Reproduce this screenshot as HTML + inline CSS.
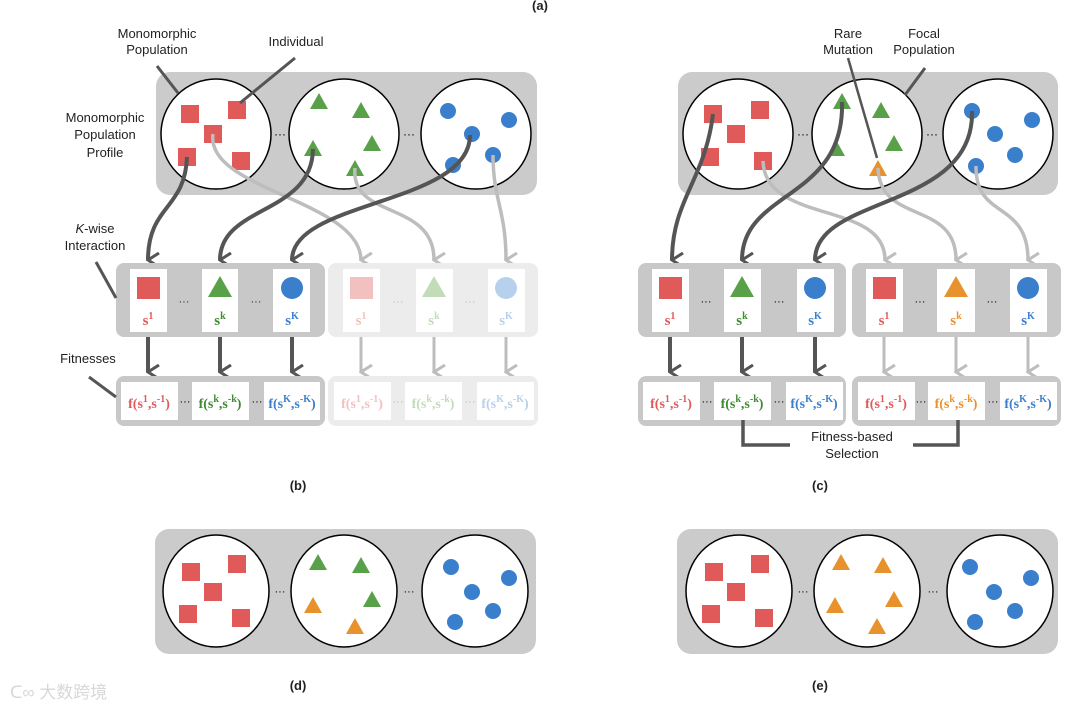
<!DOCTYPE html>
<html><head><meta charset="utf-8"><style>
html,body{margin:0;padding:0;background:#fff}
svg{display:block}
text{font-family:"Liberation Sans",sans-serif}
.lbl{font-size:13px;fill:#222;text-anchor:middle}
.s{font-family:"Liberation Serif",serif;font-weight:bold;font-size:15px;text-anchor:middle}
.f{font-family:"Liberation Serif",serif;font-weight:bold;font-size:14px;text-anchor:middle}
</style></head><body>
<svg width="1080" height="711" viewBox="0 0 1080 711" xmlns="http://www.w3.org/2000/svg">
<defs>
<marker id="ad" markerWidth="16" markerHeight="14" refX="8" refY="12" orient="auto" markerUnits="userSpaceOnUse" viewBox="0 0 16 14"><path d="M1,1 L8,12 L15,1" fill="none" stroke="#555" stroke-width="3"/></marker>
<marker id="al" markerWidth="16" markerHeight="14" refX="8" refY="12" orient="auto" markerUnits="userSpaceOnUse" viewBox="0 0 16 14"><path d="M1,1 L8,12 L15,1" fill="none" stroke="#bdbdbd" stroke-width="3"/></marker>
</defs>
<text x="540" y="10" class="lbl" font-weight="bold" font-size="13">(a)</text>

<!-- ===== LEFT TOP ===== -->
<rect x="156" y="72" width="381" height="123" rx="14" fill="#cbcbcb"/>
<circle cx="216" cy="134" r="55" fill="#fff" stroke="#000" stroke-width="1.5"/>
<circle cx="344" cy="134" r="55" fill="#fff" stroke="#000" stroke-width="1.5"/>
<circle cx="476" cy="134" r="55" fill="#fff" stroke="#000" stroke-width="1.5"/>
<text x="280" y="138" font-size="12" text-anchor="middle">···</text>
<text x="409" y="138" font-size="12" text-anchor="middle">···</text>
<g fill="#e05a5a">
<rect x="181" y="105" width="18" height="18"/><rect x="228" y="101" width="18" height="18"/><rect x="204" y="125" width="18" height="18"/><rect x="178" y="148" width="18" height="18"/><rect x="232" y="152" width="18" height="18"/>
</g>
<g fill="#58a148">
<path d="M319,93 l9,16 h-18z"/><path d="M361,102 l9,16 h-18z"/><path d="M372,135 l9,16 h-18z"/><path d="M313,140 l9,16 h-18z"/><path d="M355,160 l9,16 h-18z"/>
</g>
<g fill="#3a7fcc">
<circle cx="448" cy="111" r="8"/><circle cx="509" cy="120" r="8"/><circle cx="472" cy="134" r="8"/><circle cx="493" cy="155" r="8"/><circle cx="453" cy="165" r="8"/>
</g>
<g fill="none" stroke-width="4">
<path d="M213,134 C205,190 360,200 361,260" stroke="#bdbdbd" stroke-width="3.5" marker-end="url(#al)"/>
<path d="M355,168 C350,220 434,200 434,260" stroke="#bdbdbd" stroke-width="3.5" marker-end="url(#al)"/>
<path d="M493,155 C493,200 506,210 506,260" stroke="#bdbdbd" stroke-width="3.5" marker-end="url(#al)"/>
<path d="M187,157 C185,210 148,205 148,260" stroke="#555" marker-end="url(#ad)"/>
<path d="M313,149 C312,215 220,205 220,260" stroke="#555" marker-end="url(#ad)"/>
<path d="M470,135 C470,205 292,200 292,260" stroke="#555" marker-end="url(#ad)"/>
</g>
<rect x="116" y="263" width="209" height="74" rx="8" fill="#c8c8c8"/>
<rect x="328" y="263" width="210" height="74" rx="8" fill="#ececec"/>
<g fill="#fff"><rect x="130" y="269" width="37" height="63"/><rect x="202" y="269" width="36" height="63"/><rect x="273" y="269" width="37" height="63"/>
<rect x="343" y="269" width="37" height="63"/><rect x="416" y="269" width="37" height="63"/><rect x="488" y="269" width="37" height="63"/></g>
<rect x="137" y="277" width="23" height="22" fill="#e05a5a"/>
<path d="M220,276 l12,21 h-24z" fill="#58a148"/>
<circle cx="292" cy="288" r="11" fill="#3a7fcc"/>
<rect x="350" y="277" width="23" height="22" fill="#f3c0c0"/>
<path d="M434,276 l12,21 h-24z" fill="#c2dcb9"/>
<circle cx="506" cy="288" r="11" fill="#b7d0ec"/>
<text x="148" y="325" class="s" fill="#e05a5a">s<tspan dy="-6" font-size="10">1</tspan></text>
<text x="220" y="325" class="s" fill="#3d8a30">s<tspan dy="-6" font-size="10">k</tspan></text>
<text x="292" y="325" class="s" fill="#3a7fcc">s<tspan dy="-6" font-size="10">K</tspan></text>
<text x="361" y="325" class="s" fill="#f3c0c0">s<tspan dy="-6" font-size="10">1</tspan></text>
<text x="434" y="325" class="s" fill="#c2dcb9">s<tspan dy="-6" font-size="10">k</tspan></text>
<text x="506" y="325" class="s" fill="#b7d0ec">s<tspan dy="-6" font-size="10">K</tspan></text>
<text x="184" y="305" font-size="11" text-anchor="middle" fill="#333">···</text>
<text x="256" y="305" font-size="11" text-anchor="middle" fill="#333">···</text>
<text x="398" y="305" font-size="11" text-anchor="middle" fill="#bbb">···</text>
<text x="470" y="305" font-size="11" text-anchor="middle" fill="#bbb">···</text>
<g fill="none" stroke-width="4">
<path d="M148,337 V372" stroke="#555" marker-end="url(#ad)"/><path d="M220,337 V372" stroke="#555" marker-end="url(#ad)"/><path d="M292,337 V372" stroke="#555" marker-end="url(#ad)"/>
<path d="M361,337 V372" stroke="#bdbdbd" stroke-width="3" marker-end="url(#al)"/><path d="M434,337 V372" stroke="#bdbdbd" stroke-width="3" marker-end="url(#al)"/><path d="M506,337 V372" stroke="#bdbdbd" stroke-width="3" marker-end="url(#al)"/>
</g>
<rect x="116" y="376" width="209" height="50" rx="8" fill="#c8c8c8"/>
<rect x="328" y="376" width="210" height="50" rx="8" fill="#ececec"/>
<g fill="#fff"><rect x="121" y="382" width="57" height="38"/><rect x="192" y="382" width="57" height="38"/><rect x="264" y="382" width="56" height="38"/>
<rect x="334" y="382" width="57" height="38"/><rect x="405" y="382" width="57" height="38"/><rect x="477" y="382" width="57" height="38"/></g>
<text x="149" y="408" class="f" fill="#e05a5a">f(s<tspan dy="-6" font-size="10">1</tspan><tspan dy="6">,s</tspan><tspan dy="-6" font-size="10">-1</tspan><tspan dy="6">)</tspan></text>
<text x="220" y="408" class="f" fill="#3d8a30">f(s<tspan dy="-6" font-size="10">k</tspan><tspan dy="6">,s</tspan><tspan dy="-6" font-size="10">-k</tspan><tspan dy="6">)</tspan></text>
<text x="292" y="408" class="f" fill="#3a7fcc">f(s<tspan dy="-6" font-size="10">K</tspan><tspan dy="6">,s</tspan><tspan dy="-6" font-size="10">-K</tspan><tspan dy="6">)</tspan></text>
<text x="362" y="408" class="f" fill="#f3c0c0">f(s<tspan dy="-6" font-size="10">1</tspan><tspan dy="6">,s</tspan><tspan dy="-6" font-size="10">-1</tspan><tspan dy="6">)</tspan></text>
<text x="433" y="408" class="f" fill="#c2dcb9">f(s<tspan dy="-6" font-size="10">k</tspan><tspan dy="6">,s</tspan><tspan dy="-6" font-size="10">-k</tspan><tspan dy="6">)</tspan></text>
<text x="505" y="408" class="f" fill="#b7d0ec">f(s<tspan dy="-6" font-size="10">K</tspan><tspan dy="6">,s</tspan><tspan dy="-6" font-size="10">-K</tspan><tspan dy="6">)</tspan></text>
<text x="185" y="405" font-size="11" text-anchor="middle">···</text>
<text x="257" y="405" font-size="11" text-anchor="middle">···</text>
<text x="398" y="405" font-size="11" text-anchor="middle" fill="#bbb">···</text>
<text x="470" y="405" font-size="11" text-anchor="middle" fill="#bbb">···</text>
<text class="lbl" x="157" y="38">Monomorphic</text><text class="lbl" x="157" y="54">Population</text>
<line x1="157" y1="66" x2="178" y2="93" stroke="#555" stroke-width="3"/>
<text class="lbl" x="296" y="46">Individual</text>
<line x1="295" y1="58" x2="240" y2="103" stroke="#555" stroke-width="3"/>
<text class="lbl" x="105" y="122">Monomorphic</text><text class="lbl" x="105" y="139">Population</text><text class="lbl" x="105" y="157">Profile</text>
<text class="lbl" x="95" y="233"><tspan font-style="italic">K</tspan>-wise</text><text class="lbl" x="95" y="250">Interaction</text>
<line x1="96" y1="262" x2="116" y2="298" stroke="#555" stroke-width="3"/>
<text class="lbl" x="88" y="363">Fitnesses</text>
<line x1="89" y1="377" x2="116" y2="397" stroke="#555" stroke-width="3"/>
<text class="lbl" x="298" y="490" font-weight="bold">(b)</text>

<!-- ===== RIGHT TOP ===== -->
<rect x="678" y="72" width="380" height="123" rx="14" fill="#cbcbcb"/>
<circle cx="738" cy="134" r="55" fill="#fff" stroke="#000" stroke-width="1.5"/>
<circle cx="867" cy="134" r="55" fill="#fff" stroke="#000" stroke-width="1.5"/>
<circle cx="998" cy="134" r="55" fill="#fff" stroke="#000" stroke-width="1.5"/>
<text x="803" y="138" font-size="12" text-anchor="middle">···</text>
<text x="932" y="138" font-size="12" text-anchor="middle">···</text>
<g fill="#e05a5a">
<rect x="704" y="105" width="18" height="18"/><rect x="751" y="101" width="18" height="18"/><rect x="727" y="125" width="18" height="18"/><rect x="701" y="148" width="18" height="18"/><rect x="754" y="152" width="18" height="18"/>
</g>
<g fill="#58a148">
<path d="M842,93 l9,16 h-18z"/><path d="M881,102 l9,16 h-18z"/><path d="M894,135 l9,16 h-18z"/><path d="M836,140 l9,16 h-18z"/>
</g>
<path d="M878,160 l9,16 h-18z" fill="#e8922e"/>
<g fill="#3a7fcc">
<circle cx="972" cy="111" r="8"/><circle cx="1032" cy="120" r="8"/><circle cx="995" cy="134" r="8"/><circle cx="1015" cy="155" r="8"/><circle cx="976" cy="166" r="8"/>
</g>
<g fill="none" stroke-width="4">
<path d="M763,161 C765,225 885,200 885,260" stroke="#bdbdbd" stroke-width="3.5" marker-end="url(#al)"/>
<path d="M878,168 C880,225 956,200 956,260" stroke="#bdbdbd" stroke-width="3.5" marker-end="url(#al)"/>
<path d="M976,166 C975,220 1028,200 1028,260" stroke="#bdbdbd" stroke-width="3.5" marker-end="url(#al)"/>
<path d="M713,114 C705,180 672,200 672,260" stroke="#555" marker-end="url(#ad)"/>
<path d="M842,102 C845,200 742,190 742,260" stroke="#555" marker-end="url(#ad)"/>
<path d="M972,111 C975,210 815,195 815,260" stroke="#555" marker-end="url(#ad)"/>
</g>
<rect x="638" y="263" width="208" height="74" rx="8" fill="#c8c8c8"/>
<rect x="852" y="263" width="209" height="74" rx="8" fill="#c8c8c8"/>
<g fill="#fff"><rect x="652" y="269" width="37" height="63"/><rect x="724" y="269" width="37" height="63"/><rect x="797" y="269" width="37" height="63"/>
<rect x="866" y="269" width="37" height="63"/><rect x="937" y="269" width="38" height="63"/><rect x="1010" y="269" width="37" height="63"/></g>
<rect x="659" y="277" width="23" height="22" fill="#e05a5a"/>
<path d="M742,276 l12,21 h-24z" fill="#58a148"/>
<circle cx="815" cy="288" r="11" fill="#3a7fcc"/>
<rect x="873" y="277" width="23" height="22" fill="#e05a5a"/>
<path d="M956,276 l12,21 h-24z" fill="#e8922e"/>
<circle cx="1028" cy="288" r="11" fill="#3a7fcc"/>
<text x="670" y="325" class="s" fill="#e05a5a">s<tspan dy="-6" font-size="10">1</tspan></text>
<text x="742" y="325" class="s" fill="#3d8a30">s<tspan dy="-6" font-size="10">k</tspan></text>
<text x="815" y="325" class="s" fill="#3a7fcc">s<tspan dy="-6" font-size="10">K</tspan></text>
<text x="884" y="325" class="s" fill="#e05a5a">s<tspan dy="-6" font-size="10">1</tspan></text>
<text x="956" y="325" class="s" fill="#e8922e">s<tspan dy="-6" font-size="10">k</tspan></text>
<text x="1028" y="325" class="s" fill="#3a7fcc">s<tspan dy="-6" font-size="10">K</tspan></text>
<text x="706" y="305" font-size="11" text-anchor="middle">···</text>
<text x="779" y="305" font-size="11" text-anchor="middle">···</text>
<text x="920" y="305" font-size="11" text-anchor="middle">···</text>
<text x="992" y="305" font-size="11" text-anchor="middle">···</text>
<g fill="none" stroke-width="4">
<path d="M670,337 V372" stroke="#555" marker-end="url(#ad)"/><path d="M742,337 V372" stroke="#555" marker-end="url(#ad)"/><path d="M815,337 V372" stroke="#555" marker-end="url(#ad)"/>
<path d="M884,337 V372" stroke="#bdbdbd" stroke-width="3" marker-end="url(#al)"/><path d="M956,337 V372" stroke="#bdbdbd" stroke-width="3" marker-end="url(#al)"/><path d="M1028,337 V372" stroke="#bdbdbd" stroke-width="3" marker-end="url(#al)"/>
</g>
<rect x="638" y="376" width="208" height="50" rx="8" fill="#c8c8c8"/>
<rect x="852" y="376" width="209" height="50" rx="8" fill="#c8c8c8"/>
<g fill="#fff"><rect x="643" y="382" width="57" height="38"/><rect x="714" y="382" width="57" height="38"/><rect x="786" y="382" width="57" height="38"/>
<rect x="858" y="382" width="57" height="38"/><rect x="928" y="382" width="57" height="38"/><rect x="1000" y="382" width="57" height="38"/></g>
<text x="671" y="408" class="f" fill="#e05a5a">f(s<tspan dy="-6" font-size="10">1</tspan><tspan dy="6">,s</tspan><tspan dy="-6" font-size="10">-1</tspan><tspan dy="6">)</tspan></text>
<text x="742" y="408" class="f" fill="#3d8a30">f(s<tspan dy="-6" font-size="10">k</tspan><tspan dy="6">,s</tspan><tspan dy="-6" font-size="10">-k</tspan><tspan dy="6">)</tspan></text>
<text x="814" y="408" class="f" fill="#3a7fcc">f(s<tspan dy="-6" font-size="10">K</tspan><tspan dy="6">,s</tspan><tspan dy="-6" font-size="10">-K</tspan><tspan dy="6">)</tspan></text>
<text x="886" y="408" class="f" fill="#e05a5a">f(s<tspan dy="-6" font-size="10">1</tspan><tspan dy="6">,s</tspan><tspan dy="-6" font-size="10">-1</tspan><tspan dy="6">)</tspan></text>
<text x="956" y="408" class="f" fill="#e8922e">f(s<tspan dy="-6" font-size="10">k</tspan><tspan dy="6">,s</tspan><tspan dy="-6" font-size="10">-k</tspan><tspan dy="6">)</tspan></text>
<text x="1028" y="408" class="f" fill="#3a7fcc">f(s<tspan dy="-6" font-size="10">K</tspan><tspan dy="6">,s</tspan><tspan dy="-6" font-size="10">-K</tspan><tspan dy="6">)</tspan></text>
<text x="707" y="405" font-size="11" text-anchor="middle">···</text>
<text x="779" y="405" font-size="11" text-anchor="middle">···</text>
<text x="921" y="405" font-size="11" text-anchor="middle">···</text>
<text x="993" y="405" font-size="11" text-anchor="middle">···</text>
<path d="M743,420 V445 H790 M913,445 H958 V420" fill="none" stroke="#555" stroke-width="3.5"/>
<text class="lbl" x="852" y="441">Fitness-based</text><text class="lbl" x="852" y="458">Selection</text>
<text class="lbl" x="848" y="38">Rare</text><text class="lbl" x="848" y="54">Mutation</text>
<line x1="848" y1="58" x2="877" y2="158" stroke="#555" stroke-width="2.5"/>
<text class="lbl" x="924" y="38">Focal</text><text class="lbl" x="924" y="54">Population</text>
<line x1="925" y1="68" x2="905" y2="95" stroke="#555" stroke-width="3"/>
<text class="lbl" x="820" y="490" font-weight="bold">(c)</text>

<!-- ===== (d) ===== -->
<rect x="155" y="529" width="381" height="125" rx="14" fill="#cbcbcb"/>
<ellipse cx="216" cy="591" rx="53" ry="56" fill="#fff" stroke="#000" stroke-width="1.5"/>
<ellipse cx="344" cy="591" rx="53" ry="56" fill="#fff" stroke="#000" stroke-width="1.5"/>
<ellipse cx="475" cy="591" rx="53" ry="56" fill="#fff" stroke="#000" stroke-width="1.5"/>
<text x="280" y="595" font-size="11" text-anchor="middle">···</text>
<text x="409" y="595" font-size="11" text-anchor="middle">···</text>
<g fill="#e05a5a">
<rect x="182" y="563" width="18" height="18"/><rect x="228" y="555" width="18" height="18"/><rect x="204" y="583" width="18" height="18"/><rect x="179" y="605" width="18" height="18"/><rect x="232" y="609" width="18" height="18"/>
</g>
<path d="M318,554 l9,16 h-18z" fill="#58a148"/><path d="M361,557 l9,16 h-18z" fill="#58a148"/><path d="M372,591 l9,16 h-18z" fill="#58a148"/>
<path d="M313,597 l9,16 h-18z" fill="#e8922e"/><path d="M355,618 l9,16 h-18z" fill="#e8922e"/>
<g fill="#3a7fcc"><circle cx="451" cy="567" r="8"/><circle cx="509" cy="578" r="8"/><circle cx="472" cy="592" r="8"/><circle cx="493" cy="611" r="8"/><circle cx="455" cy="622" r="8"/></g>
<text class="lbl" x="298" y="690" font-weight="bold">(d)</text>

<!-- ===== (e) ===== -->
<rect x="677" y="529" width="381" height="125" rx="14" fill="#cbcbcb"/>
<ellipse cx="739" cy="591" rx="53" ry="56" fill="#fff" stroke="#000" stroke-width="1.5"/>
<ellipse cx="867" cy="591" rx="53" ry="56" fill="#fff" stroke="#000" stroke-width="1.5"/>
<ellipse cx="1000" cy="591" rx="53" ry="56" fill="#fff" stroke="#000" stroke-width="1.5"/>
<text x="803" y="595" font-size="11" text-anchor="middle">···</text>
<text x="933" y="595" font-size="11" text-anchor="middle">···</text>
<g fill="#e05a5a">
<rect x="705" y="563" width="18" height="18"/><rect x="751" y="555" width="18" height="18"/><rect x="727" y="583" width="18" height="18"/><rect x="702" y="605" width="18" height="18"/><rect x="755" y="609" width="18" height="18"/>
</g>
<g fill="#e8922e">
<path d="M841,554 l9,16 h-18z"/><path d="M883,557 l9,16 h-18z"/><path d="M894,591 l9,16 h-18z"/><path d="M835,597 l9,16 h-18z"/><path d="M877,618 l9,16 h-18z"/>
</g>
<g fill="#3a7fcc"><circle cx="970" cy="567" r="8"/><circle cx="1031" cy="578" r="8"/><circle cx="994" cy="592" r="8"/><circle cx="1015" cy="611" r="8"/><circle cx="975" cy="622" r="8"/></g>
<text class="lbl" x="820" y="690" font-weight="bold">(e)</text>

<text x="10" y="698" font-size="17" fill="#d8d8d8" style="font-family:'Liberation Sans','Noto Sans CJK SC',sans-serif">ᑕ∞ 大数跨境</text>
</svg>
</body></html>
